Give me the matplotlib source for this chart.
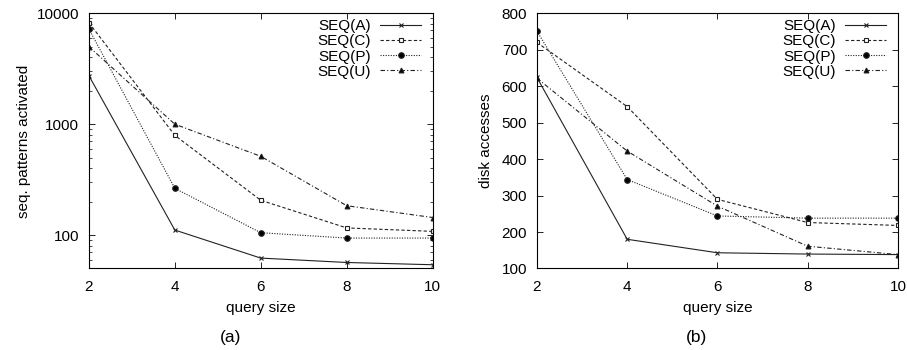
import matplotlib
matplotlib.use("Agg")
import matplotlib.pyplot as plt
from matplotlib.ticker import LogLocator, NullFormatter, FixedLocator

plt.rcParams['font.family'] = ['Liberation Sans', 'DejaVu Sans']

query_sizes = [2, 4, 6, 8, 10]
series_names = ['SEQ(A)', 'SEQ(C)', 'SEQ(P)', 'SEQ(U)']

# (a) sequential patterns activated (log scale)
patterns_a = [2740, 111, 62, 56.6, 54]
patterns_c = [8240, 793, 206, 116, 108]
patterns_p = [7220, 264, 105, 94, 94]
patterns_u = [5000, 1000, 513, 184, 144]

# (b) disk accesses
disk_a = [624, 180, 143, 139.5, 138]
disk_c = [720, 544, 289.5, 226, 218]
disk_p = [751, 344, 244, 238, 238]
disk_u = [622, 422, 271, 161, 138]

styles = [
    dict(linestyle='-', marker='x', markersize=3.5, markerfacecolor='none'),
    dict(linestyle=(0, (3, 2)), marker='s', markersize=3.5, markerfacecolor='white'),
    dict(linestyle=(0, (1, 1.3)), marker='o', markersize=4, markerfacecolor='black'),
    dict(linestyle=(0, (4, 2, 1, 2)), marker='^', markersize=3.5, markerfacecolor='black'),
]

fig = plt.figure(figsize=(9.07, 3.5), dpi=100)
ax1 = fig.add_axes([0.098, 0.233, 0.379, 0.729])
ax2 = fig.add_axes([0.592, 0.233, 0.398, 0.729])

FS = 11


def draw(ax, data):
    for name, vals, st in zip(series_names, data, styles):
        ax.plot(query_sizes, vals, color='#222222', linewidth=0.8,
                markeredgecolor='#222222', markeredgewidth=0.8, label=name, **st)
    ax.set_xlim(2, 10)
    ax.set_xticks(query_sizes)
    ax.tick_params(direction='in', top=True, right=True, labelsize=FS, length=4, width=0.6)
    ax.tick_params(axis='x', pad=8)
    ax.tick_params(axis='y', pad=7)
    ax.tick_params(which='minor', direction='in', top=True, right=True, length=2.5, width=0.5)
    for s in ax.spines.values():
        s.set_linewidth(0.8)
    ax.set_xlabel('query size', fontsize=FS, labelpad=5)
    ax.legend(loc='upper right', frameon=False, markerfirst=False, fontsize=FS,
              handlelength=2.7, handletextpad=0.6, labelspacing=0.07,
              borderaxespad=0.0, bbox_to_anchor=(0.985, 1.0))


draw(ax1, [patterns_a, patterns_c, patterns_p, patterns_u])
ax1.set_yscale('log')
ax1.set_ylim(50, 10000)
ax1.yaxis.set_major_locator(FixedLocator([100, 1000, 10000]))
ax1.yaxis.set_minor_locator(LogLocator(base=10, subs=range(2, 10)))
ax1.yaxis.set_minor_formatter(NullFormatter())
ax1.set_yticklabels(['100', '1000', '10000'])
ax1.set_ylabel('seq. patterns activated', fontsize=FS, labelpad=4)

draw(ax2, [disk_a, disk_c, disk_p, disk_u])
ax2.set_ylim(100, 800)
ax2.set_yticks(range(100, 801, 100))
ax2.set_ylabel('disk accesses', fontsize=FS, labelpad=6)

fig.text(0.254, 0.037, '(a)', fontsize=12.5, ha='center', va='center')
fig.text(0.768, 0.037, '(b)', fontsize=12.5, ha='center', va='center')

fig.savefig('out.png', dpi=100)
